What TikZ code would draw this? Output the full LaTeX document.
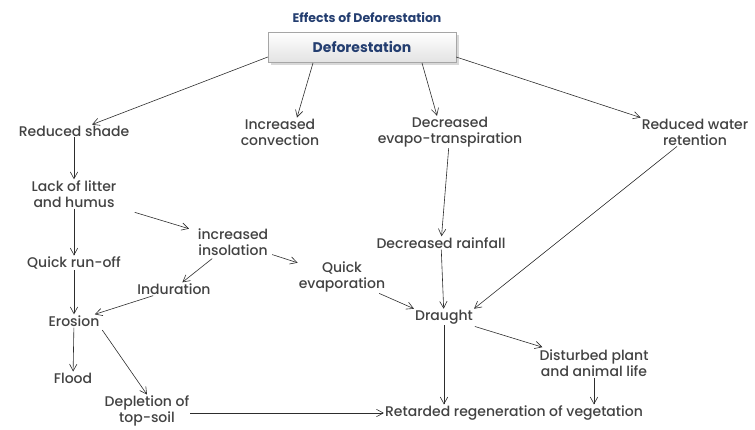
\documentclass[tikz,border=0pt]{standalone}
\usepackage{fontspec}
\setmainfont{Poppins}
\newfontfamily\itemfont{Poppins}[UprightFont=* Medium]
\usetikzlibrary{arrows.meta,positioning,shadows}
\definecolor{navy}{RGB}{36,62,112}
\definecolor{textgray}{RGB}{66,66,66}
\definecolor{linegray}{RGB}{45,45,45}
\tikzset{
  item/.style={align=center, text=textgray, font=\itemfont\fontsize{14}{16}\selectfont,
    inner sep=1pt},
  mainbox/.style={draw=gray!70, top color=white, bottom color=gray!22,
    minimum width=188pt, minimum height=30pt, text=navy,
    font=\fontsize{14}{16}\selectfont\bfseries,
    drop shadow={shadow xshift=3pt, shadow yshift=-3pt, fill=gray!60}},
  arrow/.style={-{Straight Barb[length=2.4mm,width=2.6mm]}, semithick, draw=linegray}
}
\begin{document}
\begin{tikzpicture}[x=1pt,y=-1pt]
  \useasboundingbox (0,0) rectangle (755,429);
  \node[font=\fontsize{12.5}{14}\selectfont\bfseries, text=navy] (title) at (367,18) {Effects of Deforestation};
  \node[mainbox] (defo) at (362,47) {Deforestation};
  % first row
  \node[item] (shade) at (74,131) {Reduced shade};
  \node[item] (conv) at (280,132) {Increased\\convection};
  \node[item] (evapo) at (450,132) {Decreased\\evapo-transpiration};
  \node[item] (water) at (695,132) {Reduced water\\retention};
  % left branch
  \node[item] (litter) at (74,194) {Lack of litter\\and humus};
  \node[item] (runoff) at (74,263) {Quick run-off};
  \node[item] (erosion) at (74,321) {Erosion};
  \node[item] (flood) at (73,378) {Flood};
  \node[item] (depletion) at (147,411) {Depletion of\\top-soil};
  \node[item] (insol) at (233,242) {increased\\insolation};
  \node[item] (indur) at (174,289) {Induration};
  \node[item] (quick) at (342,277) {Quick\\evaporation};
  % right branch
  \node[item] (rain) at (441,243) {Decreased rainfall};
  \node[item] (draught) at (444,317) {Draught};
  \node[item] (disturb) at (594,363) {Disturbed plant\\and animal life};
  \node[item] (retard) at (514,413) {Retarded regeneration of vegetation};

  \draw[arrow] (defo.west |- 0,57) -- ([xshift=18pt]shade.north);
  \draw[arrow] (313,63) -- ([xshift=17pt]conv.north);
  \draw[arrow] (422,63) -- ([xshift=-13pt]evapo.north);
  \draw[arrow] (defo.east |- 0,57) -- (water.north west);
  \draw[arrow] (shade) -- (litter);
  \draw[arrow] (litter) -- (runoff);
  \draw[arrow, shorten <=18pt, shorten >=8pt] (litter) -- (insol);
  \draw[arrow, shorten <=3pt] (insol) -- (indur);
  \draw[arrow, shorten <=3pt] (insol) -- (quick);
  \draw[arrow] (runoff) -- (erosion);
  \draw[arrow] (indur) -- (erosion);
  \draw[arrow] (erosion) -- (flood);
  \draw[arrow, shorten <=3pt] (erosion.south east) -- (depletion.north);
  \draw[arrow] (evapo) -- (rain);
  \draw[arrow] (rain) -- (draught);
  \draw[arrow] (water) -- (draught.north east);
  \draw[arrow] (quick) -- (draught.north west);
  \draw[arrow, shorten <=4pt, shorten >=4pt] (draught) -- (disturb);
  \draw[arrow] (draught) -- (draught |- retard.north);
  \draw[arrow] (disturb.south) -- (retard.north -| disturb.south);
  \draw[arrow] (depletion.east |- retard) -- (retard);
\end{tikzpicture}
\end{document}
